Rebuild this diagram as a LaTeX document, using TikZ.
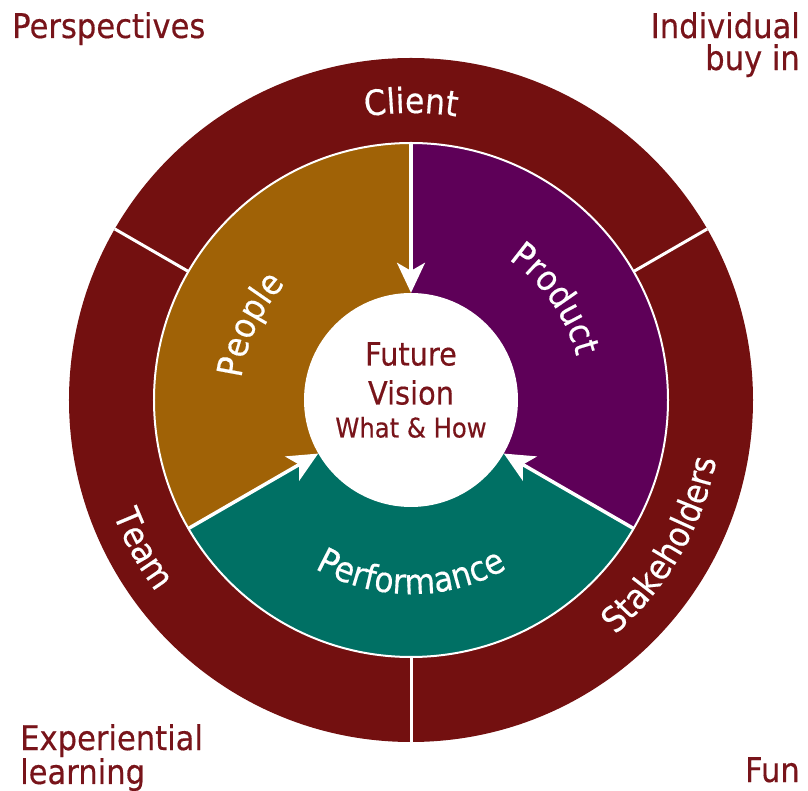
\documentclass[tikz,border=0pt]{standalone}
\usepackage{fontspec}
\setmainfont{DejaVu Sans}[FakeStretch=0.9, FakeBold=0.4]
\usetikzlibrary{arrows.meta,decorations.text}
\definecolor{ringred}{RGB}{115,16,16}
\definecolor{labelred}{RGB}{120,20,26}
\definecolor{people}{RGB}{160,98,6}
\definecolor{product}{RGB}{94,0,88}
\definecolor{performance}{RGB}{0,112,100}

\begin{document}
\begin{tikzpicture}[x=1pt, y=1pt,
corner/.style={text=labelred, font=\fontsize{34}{32}\selectfont, inner sep=0pt},
hub/.style={circle, fill=white, minimum size=214pt, inner sep=0pt},
hubtext/.style={text=labelred, align=center, inner sep=0pt, font=\fontsize{32}{39}\selectfont},
divider/.style={draw=white, line width=3pt},
feed/.style={draw=white, line width=3.5pt, -{Stealth[length=30pt, width=28pt, inset=8pt]}},
arclabel/.style={decorate, decoration={text along path, text align=center,
  text={|\color{white}\fontsize{35}{35}\selectfont|#1}}}
]
\useasboundingbox (-411,-391) rectangle (397,400);

% rings
\fill[ringred] (0,0) circle (342);
\foreach \from/\to/\col in {90/210/people, -30/90/product, 210/330/performance}
  \fill[\col] (0,0) -- (\from:257) arc[start angle=\from, end angle=\to, radius=257] -- cycle;
\draw[white, line width=2pt] (0,0) circle (257);
\foreach \a in {30,150,270}
  \draw[divider] (\a:257) -- (\a:342);

% centre
\node[hub] (vision) at (0,0) {};
\node[hubtext] (visiontext) at (0,10) {Future\\Vision\\[-6pt]{\fontsize{27}{27}\selectfont What \& How}};
\foreach \a in {90,210,330}
{
  \coordinate (rim-\a) at (\a:257);
  \draw[feed] (rim-\a) -- (vision);
}

% labels on the rings
\path[arclabel=Client] (150:287) arc[start angle=150, end angle=30, radius=287];
\path[arclabel=People] (215:171) arc[start angle=215, end angle=95, radius=171];
\path[arclabel=Product] (95:171) arc[start angle=95, end angle=-25, radius=171];
\path[arclabel=Performance] (200:194) arc[start angle=200, end angle=340, radius=194];
\path[arclabel=Team] (160:319) arc[start angle=160, end angle=258, radius=319];
\path[arclabel=Stakeholders] (272:311) arc[start angle=272, end angle=388, radius=311];

% corners
\node[corner, anchor=base west] (perspectives) at (-399,362) {Perspectives};
\node[corner, anchor=north east, align=right] (buyin) at (389,388) {Individual\\buy in};
\node[corner, anchor=north west, align=left] (learning) at (-391,-324) {Experiential\\learning};
\node[corner, anchor=base east] (fun) at (389,-382) {Fun};
\end{tikzpicture}
\end{document}
